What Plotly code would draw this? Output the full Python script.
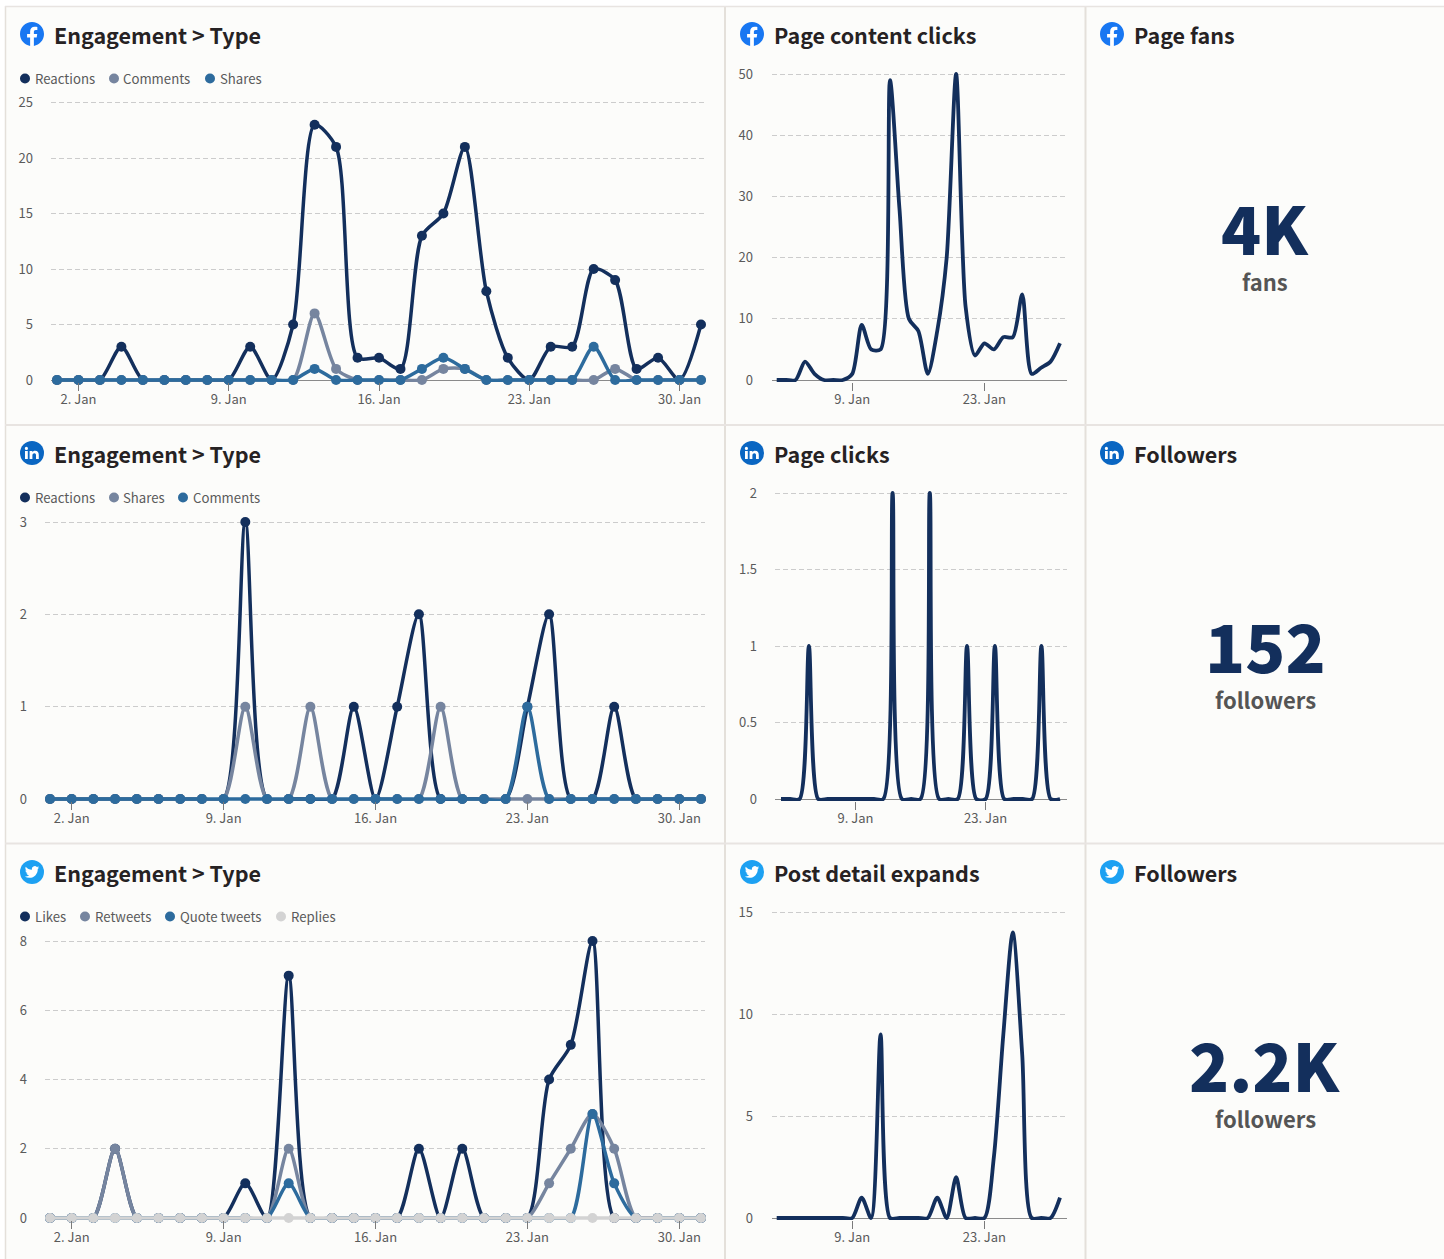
import base64
import plotly.graph_objects as go

W, H = 1444, 1259
DAYS = list(range(1, 32))

# Facebook engagement
FB_REACTIONS = [0,0,0,3,0,0,0,0,0,3,0,5,23,21,2,2,1,13,15,21,8,2,0,3,3,10,9,1,2,0,5]
FB_COMMENTS  = [0,0,0,0,0,0,0,0,0,0,0,0,6,1,0,0,0,0,1,1,0,0,0,0,0,0,1,0,0,0,0]
FB_SHARES    = [0,0,0,0,0,0,0,0,0,0,0,0,1,0,0,0,0,1,2,1,0,0,0,0,0,3,0,0,0,0,0]
# Facebook page content clicks
FB_CLICKS    = [0,0,0,3,1,0,0,0,1,9,5,5,49,28,10,8,1,8,20,50,12,4,6,5,7,7,14,1,2,3,6]
# LinkedIn engagement
LI_REACTIONS = [0,0,0,0,0,0,0,0,0,3,0,0,0,0,1,0,1,2,0,0,0,0,1,2,0,0,1,0,0,0,0]
LI_SHARES    = [0,0,0,0,0,0,0,0,0,1,0,0,1,0,0,0,0,0,1,0,0,0,0,0,0,0,0,0,0,0,0]
LI_COMMENTS  = [0,0,0,0,0,0,0,0,0,0,0,0,0,0,0,0,0,0,0,0,0,0,1,0,0,0,0,0,0,0,0]
# LinkedIn page clicks
LI_CLICKS    = [0,0,0,1,0,0,0,0,0,0,0,0,2,0,0,0,2,0,0,0,1,0,0,1,0,0,0,0,1,0,0]
# Twitter engagement
TW_LIKES     = [0,0,0,2,0,0,0,0,0,1,0,7,0,0,0,0,0,2,0,2,0,0,0,4,5,8,0,0,0,0,0]
TW_RETWEETS  = [0,0,0,2,0,0,0,0,0,0,0,2,0,0,0,0,0,0,0,0,0,0,0,1,2,3,2,0,0,0,0]
TW_QUOTES    = [0,0,0,0,0,0,0,0,0,0,0,1,0,0,0,0,0,0,0,0,0,0,0,0,0,3,1,0,0,0,0]
TW_REPLIES   = [0]*31
# Twitter post detail expands
TW_EXPANDS   = [0,0,0,0,0,0,0,0,0,1,0,9,0,0,0,0,0,1,0,2,0,0,0,3,9,14,8,0,0,0,1]

WEEK_TICKS = [2, 9, 16, 23, 30]
WEEK_LABELS = ["2. Jan", "9. Jan", "16. Jan", "23. Jan", "30. Jan"]
BI_TICKS = [9, 23]
BI_LABELS = ["9. Jan", "23. Jan"]

NAVY, SLATE, BLUE, LIGHT = "#132F5C", "#76859F", "#2D6B9D", "#D3D3D3"
FONT = "Noto Sans CJK JP"
TXT, DARK = "#5A5A5A", "#262223"

def X(p): return p / W
def Y(p): return 1 - p / H

PANELS = [
    dict(left=51, right=704, top=102.5, zero=380, x1=57, x31=701, ymax=25, ticks=[0,5,10,15,20,25],
         xt=WEEK_TICKS, xl=WEEK_LABELS, stand=17, markers=True,
         series=[(FB_REACTIONS,NAVY),(FB_COMMENTS,SLATE),(FB_SHARES,BLUE)]),
    dict(left=772, right=1067, top=74, zero=380, x1=776.7, x31=1060, ymax=50, ticks=[0,10,20,30,40,50],
         xt=BI_TICKS, xl=BI_LABELS, stand=18, markers=False, series=[(FB_CLICKS,NAVY)]),
    dict(left=45, right=705, top=522, zero=799, x1=50, x31=701, ymax=3, ticks=[0,1,2,3],
         xt=WEEK_TICKS, xl=WEEK_LABELS, stand=17, markers=True,
         series=[(LI_REACTIONS,NAVY),(LI_SHARES,SLATE),(LI_COMMENTS,BLUE)]),
    dict(left=775, right=1067, top=493, zero=799, x1=781, x31=1060, ymax=2, ticks=[0,0.5,1,1.5,2],
         xt=BI_TICKS, xl=BI_LABELS, stand=17, markers=False, series=[(LI_CLICKS,NAVY)]),
    dict(left=45, right=705, top=941, zero=1218, x1=50, x31=701, ymax=8, ticks=[0,2,4,6,8],
         xt=WEEK_TICKS, xl=WEEK_LABELS, stand=17, markers=True,
         series=[(TW_LIKES,NAVY),(TW_RETWEETS,SLATE),(TW_QUOTES,BLUE),(TW_REPLIES,LIGHT)]),
    dict(left=772, right=1067, top=912, zero=1218, x1=776.7, x31=1060, ymax=15, ticks=[0,5,10,15],
         xt=BI_TICKS, xl=BI_LABELS, stand=18, markers=False, series=[(TW_EXPANDS,NAVY)]),
]

fig = go.Figure()
layout = {}
for n, p in enumerate(PANELS, 1):
    sfx = "" if n == 1 else str(n)
    per_day = (p["x31"] - p["x1"]) / 30
    per_unit = (p["zero"] - p["top"]) / p["ymax"]
    ptop, pbot = p["top"] - 8, p["zero"] + 2
    layout["xaxis" + sfx] = dict(
        domain=[X(p["left"]), X(p["right"])], automargin=False,
        range=[1 + (p["left"] - p["x1"]) / per_day, 1 + (p["right"] - p["x1"]) / per_day],
        anchor="y" + sfx, tickmode="array", tickvals=p["xt"], ticktext=p["xl"],
        ticks="outside", ticklen=8, tickcolor="#7A7A7A", tickwidth=1, showgrid=False, zeroline=False,
        showline=False, tickfont=dict(family=FONT, size=13, color=TXT), ticklabelstandoff=-3)
    layout["yaxis" + sfx] = dict(
        domain=[Y(pbot), Y(ptop)], automargin=False,
        range=[-(pbot - p["zero"]) / per_unit, p["ymax"] + (p["top"] - ptop) / per_unit],
        anchor="x" + sfx, tickmode="array", tickvals=p["ticks"],
        ticktext=[f"{t:g}" for t in p["ticks"]], ticks="", showline=False,
        showgrid=True, gridcolor="#CCCCCC", gridwidth=1, griddash="5px,3px",
        zeroline=True, zerolinecolor="#8A8A8A", zerolinewidth=1,
        tickfont=dict(family=FONT, size=13, color=TXT), ticklabelstandoff=p["stand"])
    xa, ya = "x" + sfx, "y" + sfx
    lw = 3.5 if p["markers"] else 3.8
    for vals, col in p["series"]:
        fig.add_trace(go.Scatter(x=DAYS, y=vals, xaxis=xa, yaxis=ya, mode="lines", cliponaxis=True,
                                 line=dict(color=col, width=lw, shape="spline", smoothing=0.75, simplify=False),
                                 showlegend=False, hoverinfo="skip"))
        if p["markers"]:
            fig.add_trace(go.Scatter(x=DAYS, y=vals, xaxis=xa, yaxis=ya, mode="markers", cliponaxis=False,
                                     marker=dict(color=col, size=10), showlegend=False))

# ---------- panel chrome ----------
shapes = [dict(type="rect", xref="paper", yref="paper", x0=X(5), x1=1, y0=0, y1=Y(6),
               fillcolor="#FCFCFA", line=dict(width=0), layer="below")]
BORDER = "#E4E0DA"
for x in (5.5, 725, 1085.5):
    shapes.append(dict(type="line", xref="paper", yref="paper", x0=X(x), x1=X(x), y0=0, y1=Y(6),
                       line=dict(color=BORDER, width=2 if x > 6 else 1.5), layer="below"))
for y in (6.5, 425, 843.5):
    shapes.append(dict(type="line", xref="paper", yref="paper", x0=X(5), x1=1, y0=Y(y), y1=Y(y),
                       line=dict(color="#E8E4E1", width=2 if y > 7 else 1.5), layer="below"))

annotations = []
def text(px, py, s, size, color, weight="normal", anchor="left"):
    annotations.append(dict(xref="paper", yref="paper", x=X(px), y=Y(py), text=s, showarrow=False,
                            xanchor=anchor, yanchor="middle", align=anchor, borderpad=0,
                            font=dict(family=FONT, size=size, color=color, weight=weight)))

TITLES = [
    (53, 35, "Engagement > Type"), (773, 35, "Page content clicks"), (1133, 35, "Page fans"),
    (53, 454, "Engagement > Type"), (773, 454, "Page clicks"), (1133, 454, "Followers"),
    (53, 872, "Engagement > Type"), (773, 872, "Post detail expands"), (1133, 872, "Followers"),
]
for tx, ty, s in TITLES:
    text(tx, ty, s, 21.5, DARK, "bold")

LEGENDS = [
    (78, [(25, 34, "Reactions", NAVY), (114, 122, "Comments", SLATE), (210, 218.5, "Shares", BLUE)]),
    (497, [(25, 34, "Reactions", NAVY), (114, 122, "Shares", SLATE), (183, 192, "Comments", BLUE)]),
    (916, [(25, 34, "Likes", NAVY), (85, 94, "Retweets", SLATE), (170, 179, "Quote tweets", BLUE), (281, 289.5, "Replies", LIGHT)]),
]
for ly, items in LEGENDS:
    for mx, tx, s, col in items:
        shapes.append(dict(type="circle", xref="paper", yref="paper", x0=X(mx-5), x1=X(mx+5),
                           y0=Y(ly+5.5), y1=Y(ly-4.5), fillcolor=col, line=dict(width=0), layer="below"))
        text(tx, ly, s, 13.2, TXT)

KPIS = [(226, 281, "4K", "fans"), (644, 699, "152", "followers"), (1063, 1118, "2.2K", "followers")]
for by, ly, big, lab in KPIS:
    text(1265, by, big, 66, NAVY, 900, "center")
    text(1265, ly, lab, 22, "#555555", "bold", "center")

# ---------- network logos ----------
FB = ('<svg xmlns="http://www.w3.org/2000/svg" viewBox="0 0 24 24"><circle cx="12" cy="12" r="11.7" fill="#fff"/>'
      '<path fill="#1877F2" d="M24 12.073c0-6.627-5.373-12-12-12s-12 5.373-12 12c0 5.99 4.388 10.954 10.125 11.854v-8.385H7.078v-3.47h3.047V9.43c0-3.007 1.792-4.669 4.533-4.669 1.312 0 2.686.235 2.686.235v2.953H15.83c-1.491 0-1.956.925-1.956 1.874v2.25h3.328l-.532 3.47h-2.796v8.385C19.612 23.027 24 18.062 24 12.073z"/></svg>')
LI = ('<svg xmlns="http://www.w3.org/2000/svg" viewBox="0 0 24 24"><circle cx="12" cy="12" r="12" fill="#0A66C2"/>'
      '<path fill="#fff" d="M5 10h2.8v8H5zM6.4 5.8a1.6 1.6 0 1 1 0 3.2 1.6 1.6 0 0 1 0-3.2zM9.6 10h2.7v1.2c.5-.8 1.5-1.4 2.8-1.4 2.7 0 3.7 1.6 3.7 4.2V18H16v-3.5c0-1.2-.3-2.2-1.5-2.2s-2.1.9-2.1 2.2V18H9.6z"/></svg>')
TW = ('<svg xmlns="http://www.w3.org/2000/svg" viewBox="0 0 24 24"><circle cx="12" cy="12" r="12" fill="#1DA1F2"/>'
      '<g transform="translate(4.8 4.8) scale(.6)"><path fill="#fff" d="M23.953 4.57a10 10 0 01-2.825.775 4.958 4.958 0 002.163-2.723c-.951.555-2.005.959-3.127 1.184a4.92 4.92 0 00-8.384 4.482C7.69 8.095 4.067 6.13 1.64 3.162a4.822 4.822 0 00-.666 2.475c0 1.71.87 3.213 2.188 4.096a4.904 4.904 0 01-2.228-.616v.06a4.923 4.923 0 003.946 4.827 4.996 4.996 0 01-2.212.085 4.936 4.936 0 004.604 3.417 9.867 9.867 0 01-6.102 2.105c-.39 0-.779-.023-1.17-.067a13.995 13.995 0 007.557 2.209c9.053 0 13.998-7.496 13.998-13.985 0-.21 0-.42-.015-.63A9.935 9.935 0 0024 4.59z"/></g></svg>')
def uri(svg): return "data:image/svg+xml;base64," + base64.b64encode(svg.encode()).decode()
images = []
for svg, iy in ((FB, 22), (LI, 441), (TW, 860)):
    for ix in (20, 740, 1100):
        images.append(dict(source=uri(svg), xref="paper", yref="paper", x=X(ix), y=Y(iy),
                           sizex=24 / W, sizey=24 / H, xanchor="left", yanchor="top",
                           sizing="contain", layer="above"))

fig.update_layout(width=W, height=H, autosize=False, margin=dict(l=0, r=0, t=0, b=0, autoexpand=False),
                  paper_bgcolor="#FFFFFF", plot_bgcolor="rgba(0,0,0,0)", showlegend=False,
                  hovermode="closest", shapes=shapes, annotations=annotations, images=images,
                  font=dict(family=FONT), **layout)
fig.write_html("out.html", config=dict(displayModeBar=False),
               post_script="document.body.style.margin='0';document.documentElement.style.overflow='hidden';")
